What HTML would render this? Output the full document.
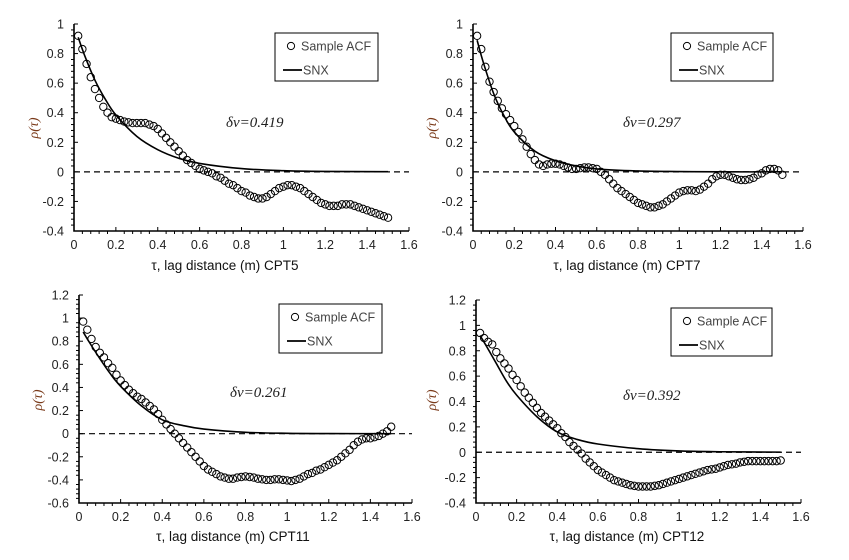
<!DOCTYPE html>
<html><head><meta charset="utf-8">
<style>
html,body{margin:0;padding:0;background:#fff;}
svg{display:block;font-family:"Liberation Sans",Arial,sans-serif;}
.tk{font-size:12.5px;fill:#222;}
.ttl{font-size:13.5px;fill:#111;}
.dv{font-family:"Liberation Serif",serif;font-style:italic;font-size:15px;fill:#222;}
.leg{font-size:12.5px;fill:#444;}
</style></head>
<body>
<svg id="chart" width="849" height="560" viewBox="0 0 849 560"></svg>
<script>
const lagValues = [];
for (let i = 1; i <= 75; i++) lagValues.push(+(i * 0.02).toFixed(2));
const snxLags = [0.02,0.05,0.1,0.15,0.2,0.3,0.4,0.5,0.6,0.8,1.0,1.2,1.5];

const cpt5Acf = [0.92,0.83,0.73,0.64,0.56,0.50,0.44,0.40,0.37,0.36,0.35,0.34,0.335,0.33,0.33,0.33,0.33,0.32,0.31,0.29,0.26,0.23,0.20,0.17,0.14,0.11,0.08,0.06,0.04,0.02,0.01,0.0,-0.01,-0.03,-0.04,-0.06,-0.08,-0.09,-0.11,-0.13,-0.14,-0.16,-0.17,-0.18,-0.18,-0.17,-0.15,-0.13,-0.11,-0.10,-0.09,-0.09,-0.10,-0.11,-0.13,-0.15,-0.17,-0.19,-0.21,-0.22,-0.23,-0.23,-0.23,-0.22,-0.22,-0.22,-0.23,-0.24,-0.25,-0.26,-0.27,-0.28,-0.29,-0.30,-0.31];
const cpt7Acf = [0.92,0.83,0.71,0.61,0.54,0.48,0.43,0.39,0.35,0.31,0.27,0.22,0.17,0.12,0.08,0.05,0.04,0.05,0.055,0.055,0.05,0.04,0.03,0.02,0.02,0.025,0.03,0.03,0.025,0.02,0.0,-0.02,-0.05,-0.08,-0.11,-0.13,-0.15,-0.17,-0.19,-0.21,-0.22,-0.23,-0.24,-0.24,-0.23,-0.22,-0.20,-0.18,-0.16,-0.14,-0.13,-0.125,-0.125,-0.13,-0.12,-0.10,-0.08,-0.05,-0.03,-0.02,-0.02,-0.03,-0.04,-0.05,-0.055,-0.055,-0.05,-0.04,-0.02,-0.01,0.01,0.02,0.02,0.01,-0.02];
const cpt11Acf = [0.97,0.90,0.82,0.75,0.70,0.66,0.61,0.57,0.51,0.46,0.42,0.38,0.35,0.32,0.30,0.27,0.24,0.21,0.17,0.12,0.08,0.04,0.0,-0.04,-0.08,-0.12,-0.16,-0.20,-0.24,-0.28,-0.31,-0.33,-0.35,-0.37,-0.38,-0.39,-0.39,-0.38,-0.375,-0.37,-0.375,-0.38,-0.39,-0.395,-0.40,-0.40,-0.395,-0.395,-0.40,-0.405,-0.41,-0.40,-0.39,-0.37,-0.35,-0.34,-0.32,-0.31,-0.29,-0.27,-0.25,-0.23,-0.20,-0.17,-0.14,-0.10,-0.07,-0.05,-0.04,-0.04,-0.03,-0.02,0.0,0.02,0.06];
const cpt12Acf = [0.94,0.90,0.87,0.85,0.79,0.74,0.70,0.66,0.61,0.57,0.52,0.47,0.43,0.39,0.35,0.31,0.28,0.25,0.22,0.19,0.15,0.12,0.08,0.05,0.02,-0.01,-0.05,-0.08,-0.11,-0.14,-0.16,-0.18,-0.20,-0.22,-0.23,-0.24,-0.25,-0.26,-0.265,-0.27,-0.27,-0.27,-0.27,-0.265,-0.26,-0.25,-0.24,-0.23,-0.22,-0.21,-0.20,-0.19,-0.18,-0.17,-0.16,-0.15,-0.14,-0.135,-0.13,-0.12,-0.11,-0.10,-0.095,-0.09,-0.08,-0.075,-0.07,-0.07,-0.07,-0.07,-0.07,-0.07,-0.07,-0.07,-0.065];

const cpt5Snx  = [0.91,0.79,0.62,0.49,0.385,0.24,0.15,0.092,0.057,0.022,0.008,0.003,0.001];
const cpt7Snx  = [0.89,0.74,0.53,0.38,0.27,0.14,0.075,0.04,0.02,0.006,0.002,0.0,0.0];
const cpt11Snx = [0.88,0.79,0.65,0.52,0.41,0.24,0.12,0.07,0.04,0.012,0.003,0.001,0.0];
const cpt12Snx = [0.92,0.84,0.70,0.56,0.45,0.28,0.16,0.10,0.065,0.028,0.01,0.004,0.001];

const xTicks = [0,0.2,0.4,0.6,0.8,1,1.2,1.4,1.6];
const yTicksA = [1,0.8,0.6,0.4,0.2,0,-0.2,-0.4];
const yTicksB = [1.2,1,0.8,0.6,0.4,0.2,0,-0.2,-0.4,-0.6];
const yTicksC = [1.2,1,0.8,0.6,0.4,0.2,0,-0.2,-0.4];
const deltaLabels = ['0.419','0.297','0.261','0.392'];
const panelNames = ['CPT5','CPT7','CPT11','CPT12'];

const NS = 'http://www.w3.org/2000/svg';
const svg = document.getElementById('chart');
function mk(tag, attrs, parent) {
  const e = document.createElementNS(NS, tag);
  for (const k in attrs) e.setAttribute(k, attrs[k]);
  (parent || svg).appendChild(e);
  return e;
}

const panels = [
  {acf:cpt5Acf, snx:cpt5Snx, yt:yTicksA, px0:74, px1:409, py:[24,231], legend:[275,33,103,48], dv:[226,127], ylab:[38,128], title:[225,270]},
  {acf:cpt7Acf, snx:cpt7Snx, yt:yTicksA, px0:473, px1:803, py:[24,231], legend:[671,33,102,48], dv:[623,127], ylab:[436,128], title:[627,270]},
  {acf:cpt11Acf, snx:cpt11Snx, yt:yTicksB, px0:79, px1:412, py:[295,503], legend:[279,304,103,49], dv:[230,397], ylab:[42,400], title:[233,541]},
  {acf:cpt12Acf, snx:cpt12Snx, yt:yTicksC, px0:476, px1:801, py:[300,503], legend:[671,308,101,48], dv:[623,400], ylab:[436,400], title:[627,541]}
];

panels.forEach((p, pi) => {
  const g = mk('g', {});
  
  
  const yMax = p.yt[0], yMin = p.yt[p.yt.length-1];
  const X = v => p.px0 + (v / 1.6) * (p.px1 - p.px0);
  const Y = v => p.py[0] + (yMax - v) / (yMax - yMin) * (p.py[1] - p.py[0]);

  const ax = mk('path', {d:`M${p.px0},${p.py[0]} V${p.py[1]} H${p.px1}`, stroke:'#000', 'stroke-width':1.6, fill:'none'}, g);
  
  
  const yStep = 0.2;
  for (let v = yMin; v <= yMax + 1e-9; v += yStep / 5) {
    const major = Math.abs(Math.round(v / yStep) * yStep - v) < 1e-6;
    mk('line', {x1:p.px0 - (major?0:3), x2:p.px0 + (major?4:0), y1:Y(v), y2:Y(v), stroke:'#000', 'stroke-width':1}, g);
  }
  p.yt.forEach(v => {
    const t = mk('text', {x:p.px0 - 10, y:Y(v) + 4.5, 'text-anchor':'end', class:'tk'}, g);
    t.textContent = String(v);
    
    
  });
  for (let v = 0; v <= 1.6 + 1e-9; v += 0.04) {
    const major = Math.abs(Math.round(v / 0.2) * 0.2 - v) < 1e-6;
    mk('line', {x1:X(v), x2:X(v), y1:p.py[1] + (major?0:3), y2:p.py[1] - (major?4:0), stroke:'#000', 'stroke-width':1}, g);
  }
  xTicks.forEach(v => {
    const t = mk('text', {x:X(v), y:p.py[1] + 18, 'text-anchor':'middle', class:'tk'}, g);
    t.textContent = String(v);
    
    
  });
  const z = mk('line', {x1:p.px0, x2:X(1.6), y1:Y(0), y2:Y(0), stroke:'#000', 'stroke-width':1.2, 'stroke-dasharray':'6,4'}, g);
  
  
  const pts = snxLags.map((l, i) => [X(l), Y(p.snx[i])]);
  let d = `M${pts[0][0]},${pts[0][1]}`;
  for (let i = 0; i < pts.length - 1; i++) {
    const p0 = pts[Math.max(0,i-1)], p1 = pts[i], p2 = pts[i+1], p3 = pts[Math.min(pts.length-1,i+2)];
    d += ` C${p1[0]+(p2[0]-p0[0])/6},${p1[1]+(p2[1]-p0[1])/6} ${p2[0]-(p3[0]-p1[0])/6},${p2[1]-(p3[1]-p1[1])/6} ${p2[0]},${p2[1]}`;
  }
  const c = mk('path', {d, stroke:'#000', 'stroke-width':1.6, fill:'none'}, g);
  
  
  p.acf.forEach((v, i) => {
    const m = mk('circle', {cx:X(lagValues[i]), cy:Y(v), r:3.7, fill:'none', stroke:'#000', 'stroke-width':1}, g);
    
    
  });
  const [lx, ly, lw, lh] = p.legend;
  const lg = mk('g', {}, g);
  
  
  mk('rect', {x:lx, y:ly, width:lw, height:lh, fill:'#fff', stroke:'#000', 'stroke-width':1}, lg);
  mk('circle', {cx:lx + 16, cy:ly + 13, r:3.6, fill:'none', stroke:'#000', 'stroke-width':1}, lg);
  const t1 = mk('text', {x:lx + 26, y:ly + 17.5, class:'leg'}, lg);
  t1.textContent = 'Sample ACF';
  
  
  mk('line', {x1:lx + 8, x2:lx + 27, y1:ly + 37, y2:ly + 37, stroke:'#000', 'stroke-width':1.8}, lg);
  const t2 = mk('text', {x:lx + 28, y:ly + 41.5, class:'leg'}, lg);
  t2.textContent = 'SNX';
  
  
  const dv = mk('text', {x:p.dv[0], y:p.dv[1], class:'dv'}, g);
  dv.textContent = 'δv=' + deltaLabels[pi];
  
  
  const yl = mk('text', {x:0, y:0, transform:`translate(${p.ylab[0]},${p.ylab[1]}) rotate(-90)`, 'text-anchor':'middle', style:'font-family:"Liberation Serif",serif;font-style:italic;font-size:14px;fill:#7a3a1a'}, g);
  yl.textContent = 'ρ(τ)';
  
  
  const xt = mk('text', {x:p.title[0], y:p.title[1], 'text-anchor':'middle', class:'ttl'}, g);
  xt.textContent = 'τ, lag distance (m) ' + panelNames[pi];
  
  
});
</script>
</body></html>
